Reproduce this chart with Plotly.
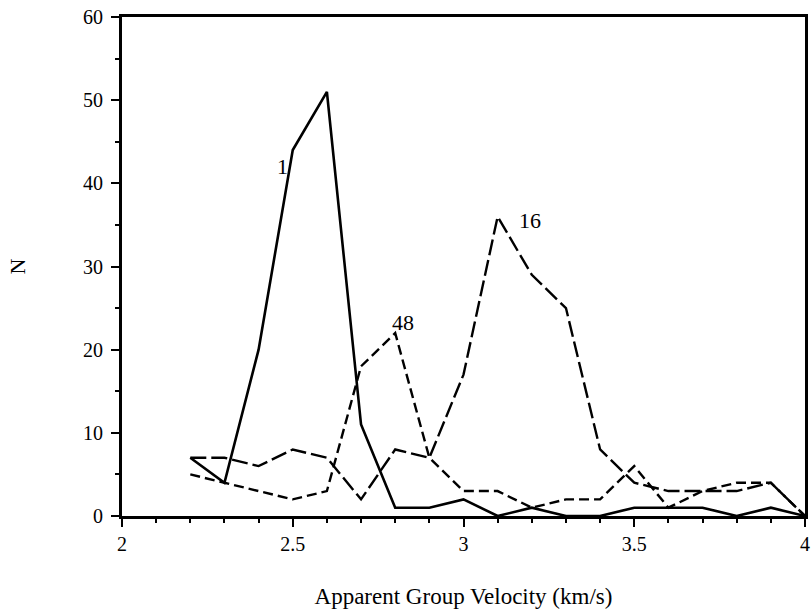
import plotly.graph_objects as go

velocity = [2.2, 2.3, 2.4, 2.5, 2.6, 2.7, 2.8, 2.9, 3.0, 3.1,
            3.2, 3.3, 3.4, 3.5, 3.6, 3.7, 3.8, 3.9, 4.0]
n_1 = [7, 4, 20, 44, 51, 11, 1, 1, 2, 0, 1, 0, 0, 1, 1, 1, 0, 1, 0]
n_16 = [7, 7, 6, 8, 7, 2, 8, 7, 17, 36, 29, 25, 8, 4, 3, 3, 3, 4, 0]
n_48 = [5, 4, 3, 2, 3, 18, 22, 7, 3, 3, 1, 2, 2, 6, 1, 3, 4, 4, 0]

FONT = "Liberation Serif, Times New Roman, serif"

fig = go.Figure()
fig.add_trace(go.Scatter(x=velocity, y=n_1, mode="lines", name="1",
                         line=dict(color="black", width=2.6)))
fig.add_trace(go.Scatter(x=velocity, y=n_16, mode="lines", name="16",
                         line=dict(color="black", width=2.4, dash="16px,5px")))
fig.add_trace(go.Scatter(x=velocity, y=n_48, mode="lines", name="48",
                         line=dict(color="black", width=2.4, dash="10px,5px")))

for txt, xx, yy in [("1", 2.47, 42), ("48", 2.823, 23.3), ("16", 3.195, 35.5)]:
    fig.add_annotation(x=xx, y=yy, text=txt, showarrow=False,
                       font=dict(family=FONT, size=22, color="black"))

fig.update_layout(
    width=812, height=609,
    margin=dict(l=122, r=7, t=17, b=93),
    paper_bgcolor="white", plot_bgcolor="white",
    showlegend=False,
    font=dict(family=FONT, color="black"),
)
fig.update_xaxes(
    range=[2, 4], dtick=0.5, tick0=2, tickformat="~g",
    showgrid=False, zeroline=False, automargin=False,
    ticklabeloverflow="allow",
    showline=True, linecolor="black", linewidth=2.8, mirror=True,
    ticks="outside", ticklen=8, tickwidth=2, tickcolor="black",
    minor=dict(dtick=0.1, ticks="outside", ticklen=4, tickwidth=1.5, tickcolor="black"),
    tickfont=dict(family=FONT, size=20, color="black"),
    title=dict(text="Apparent Group Velocity (km/s)", standoff=37,
               font=dict(family=FONT, size=23, color="black")),
)
fig.update_yaxes(
    range=[0, 60], dtick=10,
    showgrid=False, zeroline=False, automargin=False,
    showline=True, linecolor="black", linewidth=2.8, mirror=True,
    ticks="outside", ticklen=8, tickwidth=2, tickcolor="black",
    ticklabelstandoff=4,
    minor=dict(dtick=5, ticks="outside", ticklen=4, tickwidth=1.5, tickcolor="black"),
    tickfont=dict(family=FONT, size=20, color="black"),
    title=dict(text="N", standoff=52,
               font=dict(family=FONT, size=22, color="black")),
)

fig.write_html("out.html")
